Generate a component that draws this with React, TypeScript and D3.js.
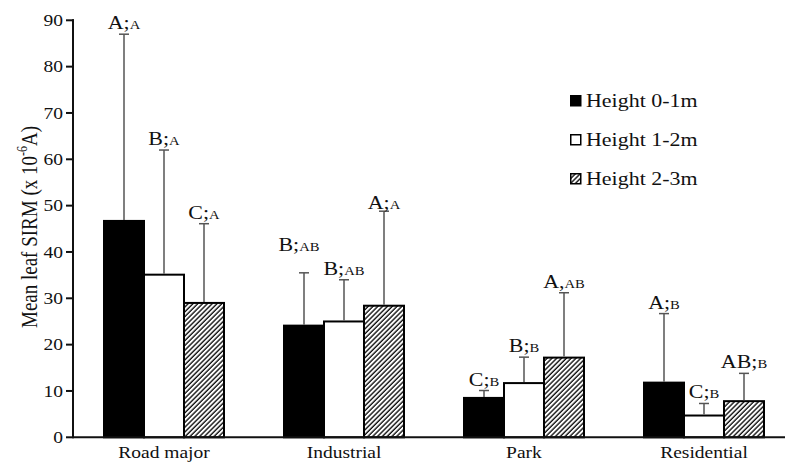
import React from "react";
import { scaleBand, scaleLinear } from "d3";

// site categories and height classes
const categories = ["Road major", "Industrial", "Park", "Residential"];
const series = ["Height 0-1m", "Height 1-2m", "Height 2-3m"];

// mean leaf SIRM per height class
const h01Mean = [46.7, 24.1, 8.5, 11.8];
const h12Mean = [35.1, 25.0, 11.7, 4.7];
const h23Mean = [29.0, 28.4, 17.2, 7.8];

// top of error bar (mean + SD)
const h01Upper = [87.0, 35.5, 10.1, 26.7];
const h12Upper = [62.0, 34.0, 17.3, 7.3];
const h23Upper = [46.1, 48.8, 31.2, 13.8];

// significance letters
const h01Labels = ["A;A", "B;AB", "C;B", "A;B"];
const h12Labels = ["B;A", "B;AB", "B;B", "C;B"];
const h23Labels = ["C;A", "A;A", "A,AB", "AB;B"];

const yTicks = [0, 10, 20, 30, 40, 50, 60, 70, 80, 90];

const means = [h01Mean, h12Mean, h23Mean];
const uppers = [h01Upper, h12Upper, h23Upper];
const labels = [h01Labels, h12Labels, h23Labels];

const width = 785;
const height = 463;
const x0 = 74;
const yTop = 20.3;
const yBottom = 437.3;
const stretch = 1.22;
const font = "'Liberation Serif', 'Times New Roman', serif";

// a couple of labels sit away from their caps in the original
const labelNudge: Record<string, [number, number]> = {
  "1-0": [-5, -17],
  "1-2": [0, 3],
};

const Letters = ({ x, y, text }: { x: number; y: number; text: string }) => {
  const m = text.match(/^([A-Z]+)([;,])([A-Z]+)$/);
  const [, main, sep, sub] = m || ["", text, "", ""];
  return (
    <text
      transform={`translate(${x},${y}) scale(${stretch},1)`}
      textAnchor="middle"
      fontFamily={font}
      fill="#111"
    >
      <tspan fontSize={18}>{main + sep}</tspan>
      <tspan fontSize={12}>{sub}</tspan>
    </text>
  );
};

export default function App() {
  const x = scaleBand<string>()
    .domain(categories)
    .range([x0, x0 + 720])
    .paddingInner(1 / 3)
    .paddingOuter(1 / 6);
  const xs = scaleBand<string>().domain(series).range([0, x.bandwidth()]);
  const y = scaleLinear().domain([0, 90]).range([yBottom, yTop]);

  const fills = ["#000", "#fff", "url(#hatch)"];

  return (
    <svg
      width={width}
      height={height}
      style={{ position: "absolute", left: 0, top: 0, background: "#fff" }}
    >
      <defs>
        <pattern
          id="hatch"
          patternUnits="userSpaceOnUse"
          width={3.4}
          height={3.4}
          patternTransform="rotate(45)"
        >
          <rect width={3.4} height={3.4} fill="#fff" />
          <line x1={1} y1={0} x2={1} y2={3.4} stroke="#000" strokeWidth={1.3} />
        </pattern>
      </defs>

      {/* bars */}
      {categories.map((c, ci) =>
        series.map((s, si) => {
          const bx = x(c)! + xs(s)!;
          const v = means[si][ci];
          return (
            <rect
              key={c + s}
              x={bx}
              y={y(v)}
              width={xs.bandwidth()}
              height={y(0) - y(v)}
              fill={fills[si]}
              stroke="#000"
              strokeWidth={2}
            />
          );
        })
      )}

      {/* error bars and letters */}
      {categories.map((c, ci) =>
        series.map((s, si) => {
          const cx = x(c)! + xs(s)! + xs.bandwidth() / 2;
          const top = y(uppers[si][ci]);
          const [dx, dy] = labelNudge[`${ci}-${si}`] || [0, 0];
          return (
            <g key={"e" + c + s}>
              <line
                x1={cx}
                x2={cx}
                y1={y(means[si][ci]) - 1}
                y2={top}
                stroke="#555"
                strokeWidth={1.5}
              />
              <line
                x1={cx - 5}
                x2={cx + 5}
                y1={top}
                y2={top}
                stroke="#555"
                strokeWidth={1.5}
              />
              <Letters x={cx + dx} y={top - 5 + dy} text={labels[si][ci]} />
            </g>
          );
        })
      )}

      {/* y axis */}
      <line x1={x0 - 1} x2={x0 - 1} y1={yTop - 1} y2={yBottom} stroke="#111" strokeWidth={2} />
      {yTicks.map(t => (
        <g key={t}>
          <line x1={x0 - 8} x2={x0} y1={y(t)} y2={y(t)} stroke="#111" strokeWidth={2} />
          <text
            transform={`translate(${x0 - 11},${y(t)}) scale(${stretch},1)`}
            dy="0.35em"
            textAnchor="end"
            fontFamily={font}
            fontSize={16}
            fill="#111"
          >
            {t}
          </text>
        </g>
      ))}
      <text
        transform={`translate(37,227) rotate(-90) scale(1,${stretch})`}
        textAnchor="middle"
        fontFamily={font}
        fontSize={19}
        fill="#111"
      >
        Mean leaf SIRM (x 10
        <tspan fontSize={12} dy={-8}>
          -6
        </tspan>
        <tspan dy={8}>A)</tspan>
      </text>

      {/* x axis */}
      <line x1={x0 - 2} x2={width} y1={yBottom} y2={yBottom} stroke="#111" strokeWidth={2} />
      {categories.map(c => (
        <text
          key={c}
          transform={`translate(${x(c)! + x.bandwidth() / 2},458) scale(${stretch},1)`}
          textAnchor="middle"
          fontFamily={font}
          fontSize={16}
          fill="#111"
        >
          {c}
        </text>
      ))}

      {/* legend */}
      {series.map((s, si) => (
        <g key={s} transform={`translate(570,${95 + si * 39})`}>
          <rect
            x={0.75}
            y={0.75}
            width={10}
            height={10}
            fill={fills[si]}
            stroke="#000"
            strokeWidth={1.5}
          />
          <text
            transform={`translate(16,11.5) scale(${stretch},1)`}
            fontFamily={font}
            fontSize={18}
            fill="#111"
          >
            {s}
          </text>
        </g>
      ))}
    </svg>
  );
}
